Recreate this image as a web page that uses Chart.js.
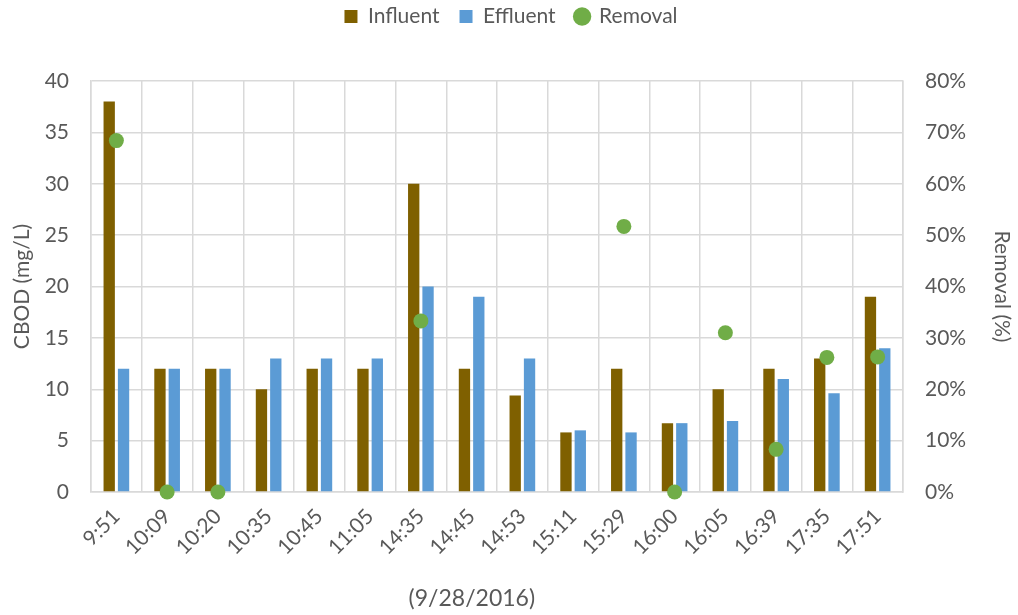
<!DOCTYPE html>
<html>
<head>
<meta charset="utf-8">
<script src="https://cdn.jsdelivr.net/npm/chart.js@4"></script>
<style>
html,body{margin:0;padding:0;background:#fff;}
#wrap{width:1018px;height:615px;position:relative;}
</style>
</head>
<body>
<div id="wrap"><canvas id="c"></canvas></div>
<script>
const categories = ["9:51","10:09","10:20","10:35","10:45","11:05","14:35","14:45","14:53","15:11","15:29","16:00","16:05","16:39","17:35","17:51"];
const influent = [38,12,12,10,12,12,30,12,9.4,5.8,12,6.7,10,12,13,19];
const effluent = [12,12,12,13,13,13,20,19,13,6,5.8,6.7,6.9,11,9.6,14];
const removal = [68.4,0,0,null,null,null,33.3,null,null,null,51.7,0,31,8.3,26.2,26.3];
const leftTicks = [0,5,10,15,20,25,30,35,40];
const rightTicks = [0,10,20,30,40,50,60,70,80];
const xTitle = "(9/28/2016)";

const FONT = "Lato, 'Open Sans', sans-serif";
const TXT = "#595959";
const GRID = "#D9D9D9";
const FS = 21;

const legendSpace = {
  id: 'legendSpace',
  beforeInit(chart){
    const fit = chart.legend.fit;
    chart.legend.fit = function(){ fit.bind(chart.legend)(); this.height += 44; };
  }
};
const xTitlePlugin = {
  id: 'xTitlePlugin',
  afterDraw(chart){
    const ctx = chart.ctx, a = chart.chartArea;
    ctx.save();
    ctx.font = "23px " + FONT;
    ctx.fillStyle = TXT;
    ctx.textAlign = 'center';
    ctx.textBaseline = 'middle';
    ctx.fillText(xTitle, a.left + (a.right - a.left) * 0.469, chart.height - 16);
    ctx.restore();
  }
};

new Chart(document.getElementById('c'), {
  type: 'bar',
  data: {
    labels: categories,
    datasets: [
      {label:'Influent', data: influent, backgroundColor:'#7F6000', yAxisID:'y', order:1,
       categoryPercentage:0.565, barPercentage:0.79, pointStyle:'rect'},
      {label:'Effluent', data: effluent, backgroundColor:'#5B9BD5', yAxisID:'y', order:1,
       categoryPercentage:0.565, barPercentage:0.79, pointStyle:'rect'},
      {label:'Removal', type:'line', data: removal, yAxisID:'y1', order:0, showLine:false,
       pointRadius:7.5, pointHoverRadius:7.5, pointBackgroundColor:'#70AD47', pointBorderColor:'#70AD47',
       pointBorderWidth:0, backgroundColor:'#70AD47', borderColor:'#70AD47', pointStyle:'circle', clip:false}
    ]
  },
  options: {
    responsive: true,
    maintainAspectRatio: false,
    animation: false,
    layout: { padding: { left: 8, right: 4, top: -14, bottom: 0 } },
    plugins: {
      legend: {
        position: 'top',
        labels: {
          usePointStyle: true,
          boxWidth: 13, boxHeight: 13,
          padding: 20,
          color: TXT,
          font: { family: FONT, size: FS },
          sort: (a,b) => a.datasetIndex - b.datasetIndex
        }
      },
      tooltip: { enabled: false }
    },
    scales: {
      x: {
        grid: { color: GRID, lineWidth: 1.5, offset: true, drawTicks: false },
        border: { color: GRID, width: 1.5 },
        ticks: { color: TXT, font: { family: FONT, size: FS }, minRotation: 45, maxRotation: 45, padding: 12 },
        afterFit(s){ s.height = 123; }
      },
      y: {
        position: 'left', min: 0, max: 40,
        afterBuildTicks(s){ s.ticks = leftTicks.map(v => ({value:v})); },
        grid: { color: GRID, lineWidth: 1.5, drawTicks: false },
        border: { color: GRID, width: 1.5 },
        ticks: { color: TXT, font: { family: FONT, size: FS }, padding: 22 },
        title: { display: true, text: 'CBOD (mg/L)', color: TXT, font: { family: FONT, size: FS }, padding: {top:2,bottom:0} },
        afterFit(s){ s.width = 83; }
      },
      y1: {
        position: 'right', min: 0, max: 80,
        afterBuildTicks(s){ s.ticks = rightTicks.map(v => ({value:v})); },
        grid: { drawOnChartArea: false, drawTicks: false },
        border: { color: GRID, width: 1.5 },
        ticks: { color: TXT, font: { family: FONT, size: FS }, padding: 22, callback: v => v + '%' },
        title: { display: true, text: 'Removal (%)', color: TXT, font: { family: FONT, size: FS }, padding: {top:0,bottom:0} },
        afterFit(s){ s.width = 111; }
      }
    }
  },
  plugins: [legendSpace, xTitlePlugin]
});
</script>
</body>
</html>
